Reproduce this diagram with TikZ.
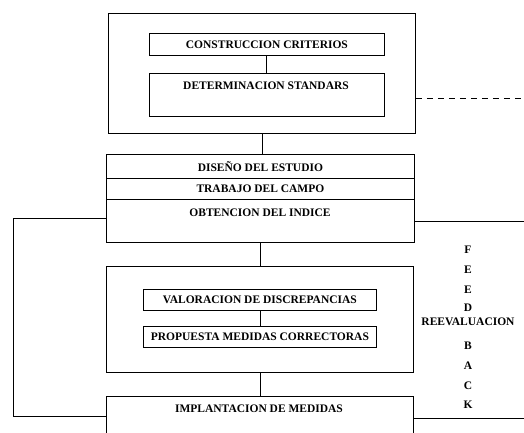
\documentclass[tikz,border=0pt]{standalone}
\usepackage{fontspec}
\setmainfont{Liberation Serif}
\begin{document}
\begin{tikzpicture}[x=1pt,y=-1pt,
  box/.style={draw, line width=0.8pt, inner sep=0pt, anchor=north west},
  lbl/.style={font=\bfseries\fontsize{11.5}{13}\selectfont, inner sep=0pt},
  ln/.style={line width=0.8pt}]
\useasboundingbox (0,0) rectangle (524,433);
\begin{scope}
\clip (0,0) rectangle (524,433);
% block 1
\node[box, minimum width=307pt, minimum height=120pt] (b1) at (108,13) {};
\node[box, minimum width=235pt, minimum height=22pt] (c1) at (149,33) {};
\node[lbl] (t1) at (c1.center) {CONSTRUCCION CRITERIOS};
\node[box, minimum width=235pt, minimum height=43pt] (c2) at (149,73) {};
\node[lbl] (t2) at (266,86) {DETERMINACION STANDARS};
% block 2
\node[box, minimum width=308pt, minimum height=24pt] (d1) at (106,154) {};
\node[lbl] (t3) at (d1.center) {DISEÑO DEL ESTUDIO};
\node[box, minimum width=308pt, minimum height=21pt] (d2) at (106,178) {};
\node[lbl] (t4) at (d2.center) {TRABAJO DEL CAMPO};
\node[box, minimum width=308pt, minimum height=43pt] (d3) at (106,199) {};
\node[lbl] (t5) at (260,213) {OBTENCION DEL INDICE};
% block 3
\node[box, minimum width=307pt, minimum height=106pt] (b3) at (106,266) {};
\node[box, minimum width=233pt, minimum height=21pt] (e1) at (143,289) {};
\node[lbl] (t6) at (e1.center) {VALORACION DE DISCREPANCIAS};
\node[box, minimum width=233pt, minimum height=21pt] (e2) at (143,326) {};
\node[lbl] (t7) at (e2.center) {PROPUESTA MEDIDAS CORRECTORAS};
% block 4
\node[box, minimum width=307pt, minimum height=50pt] (b4) at (106,396) {};
\node[lbl] (t8) at (259,409) {IMPLANTACION DE MEDIDAS};
% connectors
\draw[ln] (c1.south -| t2) -- (c2.north -| t2);
\draw[ln] (b1.south) -- (d1.north -| b1.south);
\draw[ln] (d3.south -| e1.north) -- (b3.north -| e1.north);
\draw[ln] (e1.south) -- (e2.north);
\draw[ln] (b3.south -| e2.south) -- (b4.north -| e2.south);
% dashed feedforward
\coordinate (dashend) at (524,98);
\draw[ln, dashed, dash pattern=on 6pt off 5pt] (b1.east |- dashend) -- (dashend);
% feedback loops
\coordinate (lt) at (13,218);
\coordinate (lb) at (13,416);
\draw[ln] (d3.west |- lt) -- (lt) -- (lb) -- (b4.west |- lb);
\coordinate (rt) at (524,221);
\coordinate (rb) at (524,418);
\draw[ln] (d3.east |- rt) -- (rt);
\draw[ln] (b4.east |- rb) -- (rb);
% right label
\node[lbl] (f1) at (468,250) {F};
\node[lbl] (f2) at (468,270) {E};
\node[lbl] (f3) at (468,290) {E};
\node[lbl] (f4) at (468,308) {D};
\node[lbl] (rv) at (468,322) {REEVALUACION};
\node[lbl] (f5) at (468,346) {B};
\node[lbl] (f6) at (468,366) {A};
\node[lbl] (f7) at (468,386) {C};
\node[lbl] (f8) at (468,405) {K};
\end{scope}
\end{tikzpicture}
\end{document}
